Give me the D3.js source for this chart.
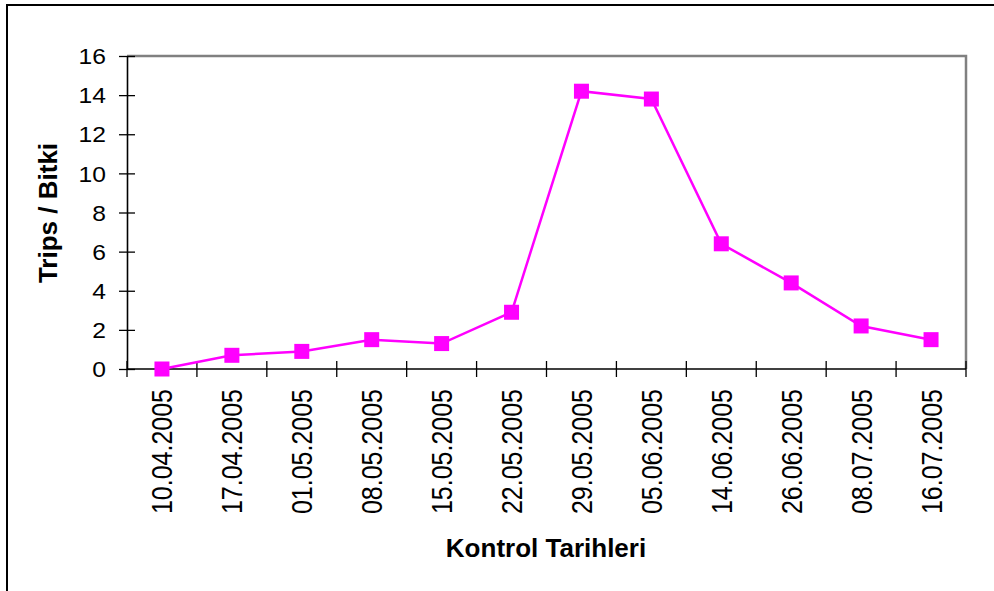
<!DOCTYPE html>
<html>
<head>
<meta charset="utf-8">
<script src="https://cdn.jsdelivr.net/npm/d3@7"></script>
<style>
  html, body { margin: 0; padding: 0; background: #fff; }
  svg { display: block; font-family: "Liberation Sans", Arial, sans-serif; }
</style>
</head>
<body>
<svg id="chart" width="994" height="591"></svg>
<script>
// Control dates and thrips counts per plant
const dates = ["10.04.2005", "17.04.2005", "01.05.2005", "08.05.2005", "15.05.2005", "22.05.2005",
               "29.05.2005", "05.06.2005", "14.06.2005", "26.06.2005", "08.07.2005", "16.07.2005"];
const tripsPerPlant = [0, 0.7, 0.9, 1.5, 1.3, 2.9, 14.2, 13.8, 6.4, 4.4, 2.2, 1.5];
const yTicks = [0, 2, 4, 6, 8, 10, 12, 14, 16];

const svg = d3.select("#chart");
const plot = { left: 127, right: 966, top: 56, bottom: 369 };

// Outer chart border (extends past the right/bottom edge)
svg.append("rect")
  .attr("x", 7).attr("y", 5)
  .attr("width", 1000).attr("height", 600)
  .attr("fill", "#fff").attr("stroke", "#000").attr("stroke-width", 2);

const x = d3.scaleBand().domain(dates).range([plot.left, plot.right]).padding(0);
const y = d3.scaleLinear().domain([0, 16]).range([plot.bottom, plot.top]);

// Plot frame: grey top and right edges
svg.append("path")
  .attr("d", `M${plot.left},${plot.top}H${plot.right}V${plot.bottom}`)
  .attr("fill", "none").attr("stroke", "#808080").attr("stroke-width", 2.5);

// Y axis
const yAxis = d3.axisLeft(y).tickValues(yTicks).tickSizeInner(8).tickSizeOuter(0).tickPadding(12);
const gy = svg.append("g").attr("transform", `translate(${plot.left},0)`).call(yAxis);
gy.select(".domain").attr("stroke", "#000").attr("stroke-width", 1.6);
gy.selectAll(".tick line").attr("x2", -8).attr("x1", 8).attr("stroke", "#000").attr("stroke-width", 1.3);
gy.selectAll(".tick text")
  .attr("font-size", 22).attr("fill", "#000")
  .attr("x", null).attr("dy", "0.35em")
  .attr("transform", "translate(-21,0) scale(1.12,1)")
  .style("font-family", "Liberation Sans, Arial, sans-serif");

// X axis: ticks at category boundaries
const gx = svg.append("g").attr("transform", `translate(0,${plot.bottom})`);
gx.append("line")
  .attr("x1", plot.left).attr("x2", plot.right)
  .attr("stroke", "#000").attr("stroke-width", 1.6);
const bounds = dates.map(d => x(d)).concat([x(dates[dates.length - 1]) + x.bandwidth()]);
gx.selectAll("line.tk").data(bounds).enter().append("line")
  .attr("class", "tk")
  .attr("x1", d => d).attr("x2", d => d)
  .attr("y1", -8).attr("y2", 8)
  .attr("stroke", "#000").attr("stroke-width", 1.3);
gx.selectAll("text").data(dates).enter().append("text")
  .attr("transform", d => `translate(${x(d) + x.bandwidth() / 2 + 10.5},20) rotate(-90) scale(1,1.17)`)
  .attr("text-anchor", "end")
  .attr("font-size", 25)
  .attr("fill", "#000")
  .text(d => d);

// Series line and square markers
const cx = d => x(d) + x.bandwidth() / 2;
const line = d3.line().x((d, i) => cx(dates[i])).y(d => y(d));
svg.append("path")
  .datum(tripsPerPlant)
  .attr("d", line)
  .attr("fill", "none").attr("stroke", "#FF00FF").attr("stroke-width", 2.5);

const ms = 15;
svg.selectAll("rect.mk").data(tripsPerPlant).enter().append("rect")
  .attr("class", "mk")
  .attr("x", (d, i) => cx(dates[i]) - ms / 2)
  .attr("y", d => y(d) - ms / 2)
  .attr("width", ms).attr("height", ms)
  .attr("fill", "#FF00FF");

// Axis titles
svg.append("text")
  .attr("x", 546).attr("y", 557)
  .attr("text-anchor", "middle")
  .attr("font-size", 26).attr("font-weight", "bold")
  .text("Kontrol Tarihleri");

svg.append("text")
  .attr("transform", `translate(57,213) rotate(-90)`)
  .attr("text-anchor", "middle")
  .attr("font-size", 26).attr("font-weight", "bold")
  .text("Trips / Bitki");
</script>
</body>
</html>
